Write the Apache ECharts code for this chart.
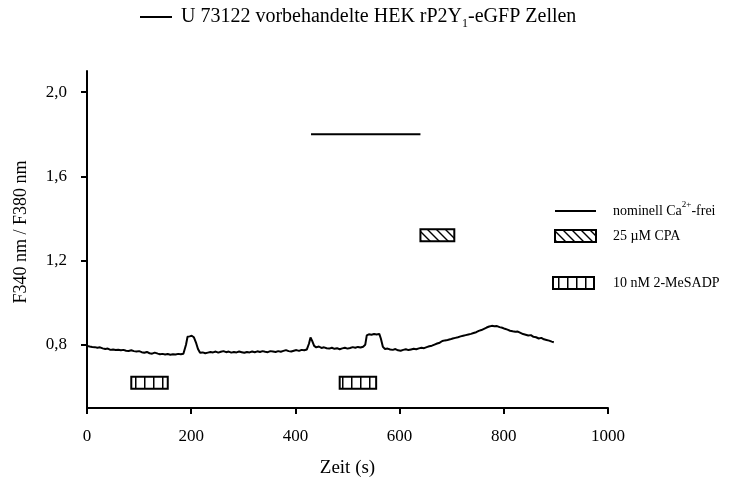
<!DOCTYPE html>
<html>
<head>
<meta charset="utf-8">
<script src="https://cdn.jsdelivr.net/npm/echarts@6/dist/echarts.min.js"></script>
<style>
  html, body { margin: 0; padding: 0; background: #fff; }
  #chart { width: 749px; height: 480px; }
</style>
</head>
<body>
<div id="chart"></div>
<script>
// Fura-2 ratio trace (time in s, F340/F380)
const zeit = [
  0, 5, 10, 15, 20, 25, 30, 35, 40, 45, 50, 55, 60, 65, 70, 75, 80, 85, 90, 95,
  100, 105, 110, 115, 120, 125, 130, 133, 136, 140, 145, 150, 155, 160, 165, 170, 175, 180, 185,
  190, 193, 197, 201, 205, 209, 213, 217, 222, 227, 232, 237, 242, 247, 252, 257, 262, 267, 272,
  277, 282, 287, 292, 297, 302, 307, 312, 317, 322, 327, 332, 337, 342, 347, 352, 357, 362, 367,
  372, 377, 382, 387, 392, 397, 402, 407, 412, 417, 422, 426, 429, 432, 436, 440, 445, 450, 455,
  460, 465, 470, 475, 480, 485, 490, 495, 500, 505, 510, 515, 520, 525, 530, 534, 537, 541, 546,
  551, 556, 561, 564, 568, 572, 577, 582, 587, 592, 597, 602, 607, 612, 617, 622, 627, 632, 637,
  642, 647, 652, 657, 662, 667, 672, 677, 682, 687, 692, 697, 702, 707, 712, 717, 722, 727, 732,
  737, 742, 747, 752, 757, 762, 767, 772, 777, 782, 787, 792, 797, 802, 807, 812, 817, 822, 827,
  832, 837, 842, 847, 852, 857, 862, 867, 872, 877, 882, 887, 892, 896
];
const ratio = [
  0.795, 0.792, 0.790, 0.789, 0.786, 0.788, 0.783, 0.780, 0.782, 0.776, 0.778, 0.775, 0.777, 0.774, 0.776, 0.772, 0.771, 0.774, 0.770, 0.768,
  0.770, 0.765, 0.762, 0.766, 0.760, 0.758, 0.763, 0.772, 0.758, 0.755, 0.757, 0.754, 0.756, 0.753, 0.755, 0.754, 0.757, 0.755, 0.758,
  0.800, 0.838, 0.840, 0.843, 0.836, 0.812, 0.780, 0.762, 0.764, 0.760, 0.763, 0.766, 0.764, 0.768, 0.763, 0.767, 0.770, 0.765, 0.768,
  0.763, 0.766, 0.764, 0.768, 0.765, 0.762, 0.766, 0.764, 0.768, 0.765, 0.769, 0.766, 0.770, 0.767, 0.765, 0.770, 0.768, 0.766, 0.770,
  0.767, 0.771, 0.775, 0.770, 0.768, 0.772, 0.775, 0.771, 0.776, 0.774, 0.778, 0.805, 0.835, 0.820, 0.795, 0.788, 0.792, 0.785, 0.788,
  0.784, 0.782, 0.786, 0.781, 0.784, 0.779, 0.783, 0.786, 0.782, 0.785, 0.789, 0.786, 0.790, 0.787, 0.791, 0.800, 0.845, 0.850, 0.848,
  0.851, 0.849, 0.852, 0.830, 0.790, 0.780, 0.782, 0.778, 0.776, 0.780, 0.774, 0.772, 0.776, 0.779, 0.775, 0.778, 0.781, 0.779, 0.783,
  0.786, 0.784, 0.789, 0.793, 0.796, 0.801, 0.806, 0.810, 0.818, 0.821, 0.823, 0.826, 0.830, 0.833, 0.836, 0.840, 0.843, 0.846, 0.849,
  0.852, 0.856, 0.860, 0.866, 0.870, 0.876, 0.882, 0.887, 0.890, 0.888, 0.889, 0.884, 0.881, 0.876, 0.872, 0.867, 0.864, 0.862, 0.863,
  0.857, 0.851, 0.848, 0.844, 0.846, 0.838, 0.836, 0.830, 0.833, 0.826, 0.823, 0.820, 0.815, 0.812
];

// Application periods: [start s, end s, drawn at ratio level]
const caFrei = [[430, 640, 1.80]];
const cpa = [[640, 705, 1.32]];
const meSADP = [[85, 155, 0.62], [485, 555, 0.62]];

// Axis ticks
const xTicks = [0, 200, 400, 600, 800, 1000];
const yTicks = [0.8, 1.2, 1.6, 2.0];

const FONT = '"Liberation Serif", "Times New Roman", serif';

// Fill patterns: diagonal hatching (CPA) and vertical stripes (2-MeSADP)
function diagPattern() {
  const c = document.createElement('canvas');
  c.width = 9; c.height = 9;
  const g = c.getContext('2d');
  g.strokeStyle = '#000'; g.lineWidth = 1.4;
  g.beginPath();
  g.moveTo(-1, -1); g.lineTo(10, 10);
  g.moveTo(8, -1); g.lineTo(10, 1);
  g.moveTo(-1, 8); g.lineTo(1, 10);
  g.stroke();
  return c;
}
function vertPattern() {
  const c = document.createElement('canvas');
  c.width = 9; c.height = 4;
  const g = c.getContext('2d');
  g.fillStyle = '#fff'; g.fillRect(0, 0, 9, 4);
  g.fillStyle = '#000'; g.fillRect(0, 0, 1.5, 4);
  return c;
}
const diagFill = { type: 'pattern', image: diagPattern(), repeat: 'repeat' };
const vertFill = { type: 'pattern', image: vertPattern(), repeat: 'repeat' };

function boxRenderer(fill) {
  return function (params, api) {
    const a = api.coord([api.value(0), api.value(2)]);
    const b = api.coord([api.value(1), api.value(2)]);
    const h = 12;
    return {
      type: 'rect',
      shape: { x: a[0], y: a[1] - h / 2, width: b[0] - a[0], height: h },
      style: { fill: fill, stroke: '#000', lineWidth: 2 }
    };
  };
}
function barLineRenderer(params, api) {
  const a = api.coord([api.value(0), api.value(2)]);
  const b = api.coord([api.value(1), api.value(2)]);
  return {
    type: 'line',
    shape: { x1: a[0], y1: a[1], x2: b[0], y2: b[1] },
    style: { stroke: '#000', lineWidth: 2 }
  };
}

const chart = echarts.init(document.getElementById('chart'), null, { renderer: 'canvas' });

const textBase = { fontFamily: FONT, fill: '#000' };

chart.setOption({
  animation: false,
  backgroundColor: '#fff',
  grid: { left: 87, right: 141, top: 71, bottom: 72, outerBoundsMode: 'none', containLabel: false },
  xAxis: {
    type: 'value',
    min: 0, max: 1000, interval: 200,
    name: 'Zeit (s)',
    nameLocation: 'middle',
    nameGap: 51,
    nameTextStyle: { fontFamily: FONT, fontSize: 19, color: '#000' },
    axisLine: { show: true, onZero: false, lineStyle: { color: '#000', width: 2 } },
    axisTick: { show: true, length: 6, lineStyle: { color: '#000', width: 2 } },
    axisLabel: { fontFamily: FONT, fontSize: 17, color: '#000', margin: 20, formatter: v => String(v) },
    splitLine: { show: false }
  },
  yAxis: {
    type: 'value',
    min: 0.5, max: 2.1,
    axisLine: { show: true, lineStyle: { color: '#000', width: 2 } },
    axisTick: { show: true, length: 6, customValues: yTicks, lineStyle: { color: '#000', width: 2 } },
    axisLabel: {
      customValues: yTicks,
      fontFamily: FONT, fontSize: 17, color: '#000', margin: 20,
      formatter: v => v.toFixed(1).replace('.', ',')
    },
    splitLine: { show: false }
  },
  series: [
    {
      type: 'line',
      data: zeit.map((t, i) => [t, ratio[i]]),
      showSymbol: false,
      lineStyle: { color: '#000', width: 2 },
      itemStyle: { color: '#000' },
      z: 3
    },
    { type: 'custom', data: caFrei, renderItem: barLineRenderer, encode: { x: [0, 1], y: 2 } },
    { type: 'custom', data: cpa, renderItem: boxRenderer(diagFill), encode: { x: [0, 1], y: 2 } },
    { type: 'custom', data: meSADP, renderItem: boxRenderer(vertFill), encode: { x: [0, 1], y: 2 } }
  ],
  graphic: [
    // y-axis title
    {
      type: 'text', x: 21, y: 232, rotation: Math.PI / 2,
      style: Object.assign({}, textBase, { text: 'F340 nm / F380 nm', fontSize: 18, align: 'center', verticalAlign: 'middle' })
    },
    // series key at the top
    { type: 'line', shape: { x1: 140, y1: 17, x2: 172, y2: 17 }, style: { stroke: '#000', lineWidth: 2 } },
    {
      type: 'text', x: 181, y: 17,
      style: Object.assign({}, textBase, {
        text: 'U 73122 vorbehandelte HEK rP2Y{sub|1}-eGFP Zellen',
        fontSize: 20, lineHeight: 26, verticalAlign: 'middle',
        rich: { sub: { fontFamily: FONT, fontSize: 12, lineHeight: 11, verticalAlign: 'bottom' } }
      })
    },
    // application key on the right
    { type: 'line', shape: { x1: 555, y1: 211, x2: 596, y2: 211 }, style: { stroke: '#000', lineWidth: 2 } },
    {
      type: 'text', x: 613, y: 211,
      style: Object.assign({}, textBase, {
        text: 'nominell Ca{sup|2+}-frei',
        fontSize: 14, lineHeight: 22, verticalAlign: 'middle',
        rich: { sup: { fontFamily: FONT, fontSize: 9, lineHeight: 9, verticalAlign: 'top' } }
      })
    },
    { type: 'rect', shape: { x: 555, y: 230, width: 41, height: 12 }, style: { fill: diagFill, stroke: '#000', lineWidth: 2 } },
    { type: 'text', x: 613, y: 236, style: Object.assign({}, textBase, { text: '25 µM CPA', fontSize: 14, verticalAlign: 'middle' }) },
    { type: 'rect', shape: { x: 553, y: 277, width: 41, height: 12 }, style: { fill: vertFill, stroke: '#000', lineWidth: 2 } },
    { type: 'text', x: 613, y: 283, style: Object.assign({}, textBase, { text: '10 nM 2-MeSADP', fontSize: 14, verticalAlign: 'middle' }) }
  ]
});
</script>
</body>
</html>
